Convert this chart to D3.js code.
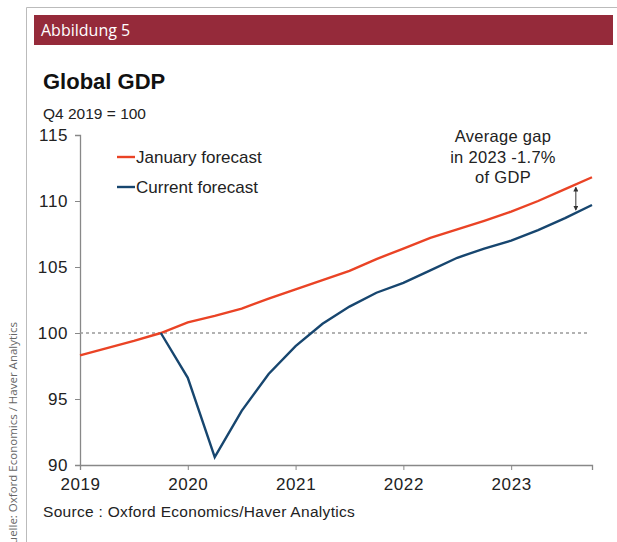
<!DOCTYPE html>
<html>
<head>
<meta charset="utf-8">
<script src="https://cdn.jsdelivr.net/npm/d3@7"></script>
<style>
  body { margin: 0; background: #fff; }
  svg { display: block; }
</style>
</head>
<body>
<svg id="chart" width="617" height="542"></svg>
<script>
// quarterly points, Q1 2019 .. Q4 2023 (in years)
const quarters = d3.range(20).map(i => 2019 + i * 0.25);
const januaryForecast = [98.3, 98.85, 99.4, 100.0, 100.8, 101.3, 101.85, 102.6, 103.3, 104.0,
  104.7, 105.6, 106.4, 107.2, 107.85, 108.5, 109.2, 110.0, 110.9, 111.8];
// current forecast starts at Q4 2019
const currentStart = 3;
const currentForecast = [100.0, 96.6, 90.6, 94.1, 96.9, 99.0, 100.7, 102.0, 103.05, 103.8,
  104.75, 105.7, 106.4, 107.0, 107.8, 108.7, 109.7];
const xTicks = [2019, 2020, 2021, 2022, 2023];
const yTicks = [90, 95, 100, 105, 110, 115];
const series = [
  { name: "January forecast", color: "#ea4325" },
  { name: "Current forecast", color: "#17466f" }
];
const noteLines = ["Average gap", "in 2023 -1.7%", "of GDP"];

const svg = d3.select("#chart");
const font = "'Liberation Sans', Arial, sans-serif";

// frame and header
svg.append("path").attr("d", "M26.5,542V7.5H617").attr("fill", "none").attr("stroke", "#bbb");
svg.append("rect").attr("x", 34).attr("y", 15).attr("width", 579).attr("height", 30).attr("fill", "#952a3a");
svg.append("text").attr("x", 41).attr("y", 36).attr("fill", "#fff")
  .style("font-family", "'Open Sans', sans-serif").style("font-size", "16px").text("Abbildung 5");

svg.append("text").attr("transform", "translate(17,322) rotate(-90)").attr("text-anchor", "end")
  .attr("fill", "#666").style("font-family", "'Open Sans', sans-serif").style("font-size", "11.5px")
  .text("Quelle: Oxford Economics / Haver Analytics");

svg.append("text").attr("x", 43).attr("y", 89).attr("fill", "#111")
  .style("font-family", font).style("font-size", "22px").style("font-weight", "bold").text("Global GDP");
svg.append("text").attr("x", 43).attr("y", 119).attr("fill", "#222")
  .style("font-family", font).style("font-size", "15.5px").text("Q4 2019 = 100");

const x = d3.scaleLinear().domain([2019, 2023.75]).range([80, 592]);
const y = d3.scaleLinear().domain([90, 115]).range([465, 135]);

// axes
const xAxis = svg.append("g").attr("transform", "translate(0,465)")
  .call(d3.axisBottom(x).tickValues(xTicks).tickFormat(d3.format("d")).tickSize(5).tickPadding(8));
const yAxis = svg.append("g").attr("transform", "translate(80,0)")
  .call(d3.axisLeft(y).tickValues(yTicks).tickSize(5).tickPadding(7));
[xAxis, yAxis].forEach(g => {
  g.select(".domain").attr("stroke", "#888").attr("stroke-width", 1.3);
  g.selectAll(".tick line").attr("stroke", "#888");
  g.selectAll("text").attr("fill", "#222").style("font-family", font)
    .style("font-size", "17px").style("letter-spacing", "0.6px");
});

// 100 reference line
svg.append("line").attr("x1", x(2019)).attr("x2", 587).attr("y1", y(100)).attr("y2", y(100))
  .attr("stroke", "#999").attr("stroke-width", 1.3).attr("stroke-dasharray", "3,3");

const line = d3.line().x(d => x(d[0])).y(d => y(d[1]));
svg.append("path").datum(januaryForecast.map((v, i) => [quarters[i], v]))
  .attr("d", line).attr("fill", "none").attr("stroke", series[0].color).attr("stroke-width", 2.4);
svg.append("path").datum(currentForecast.map((v, i) => [quarters[i + currentStart], v]))
  .attr("d", line).attr("fill", "none").attr("stroke", series[1].color).attr("stroke-width", 2.4);

// legend
series.forEach((s, i) => {
  const ly = 157 + i * 30;
  svg.append("line").attr("x1", 117).attr("x2", 135).attr("y1", ly).attr("y2", ly)
    .attr("stroke", s.color).attr("stroke-width", 2.4);
  svg.append("text").attr("x", 136).attr("y", ly + 6).attr("fill", "#222")
    .style("font-family", font).style("font-size", "17px").text(s.name);
});

// gap annotation
const defs = svg.append("defs");
defs.append("marker").attr("id", "ah").attr("viewBox", "0 0 6 6").attr("refX", 5).attr("refY", 3)
  .attr("markerWidth", 5).attr("markerHeight", 5).attr("orient", "auto-start-reverse")
  .append("path").attr("d", "M0,0L6,3L0,6Z").attr("fill", "#333");
const ax = 2023.6;
const redAt = d3.scaleLinear().domain(quarters.slice(-2)).range(januaryForecast.slice(-2))(ax);
const blueAt = d3.scaleLinear().domain(quarters.slice(-2)).range(currentForecast.slice(-2))(ax);
svg.append("line").attr("x1", x(ax)).attr("x2", x(ax)).attr("y1", y(redAt) + 3).attr("y2", y(blueAt) - 3)
  .attr("stroke", "#333").attr("stroke-width", 1)
  .attr("marker-start", "url(#ah)").attr("marker-end", "url(#ah)");

svg.append("text").attr("x", 503).attr("y", 142).attr("text-anchor", "middle").attr("fill", "#222")
  .style("font-family", font).style("font-size", "16.5px").style("letter-spacing", "0.3px")
  .selectAll("tspan").data(noteLines).join("tspan")
  .attr("x", 503).attr("dy", (d, i) => i ? 20.5 : 0).text(d => d);

svg.append("text").attr("x", 43).attr("y", 517).attr("fill", "#222")
  .style("font-family", font).style("font-size", "15.5px").style("letter-spacing", "0.3px")
  .text("Source : Oxford Economics/Haver Analytics");
</script>
</body>
</html>
